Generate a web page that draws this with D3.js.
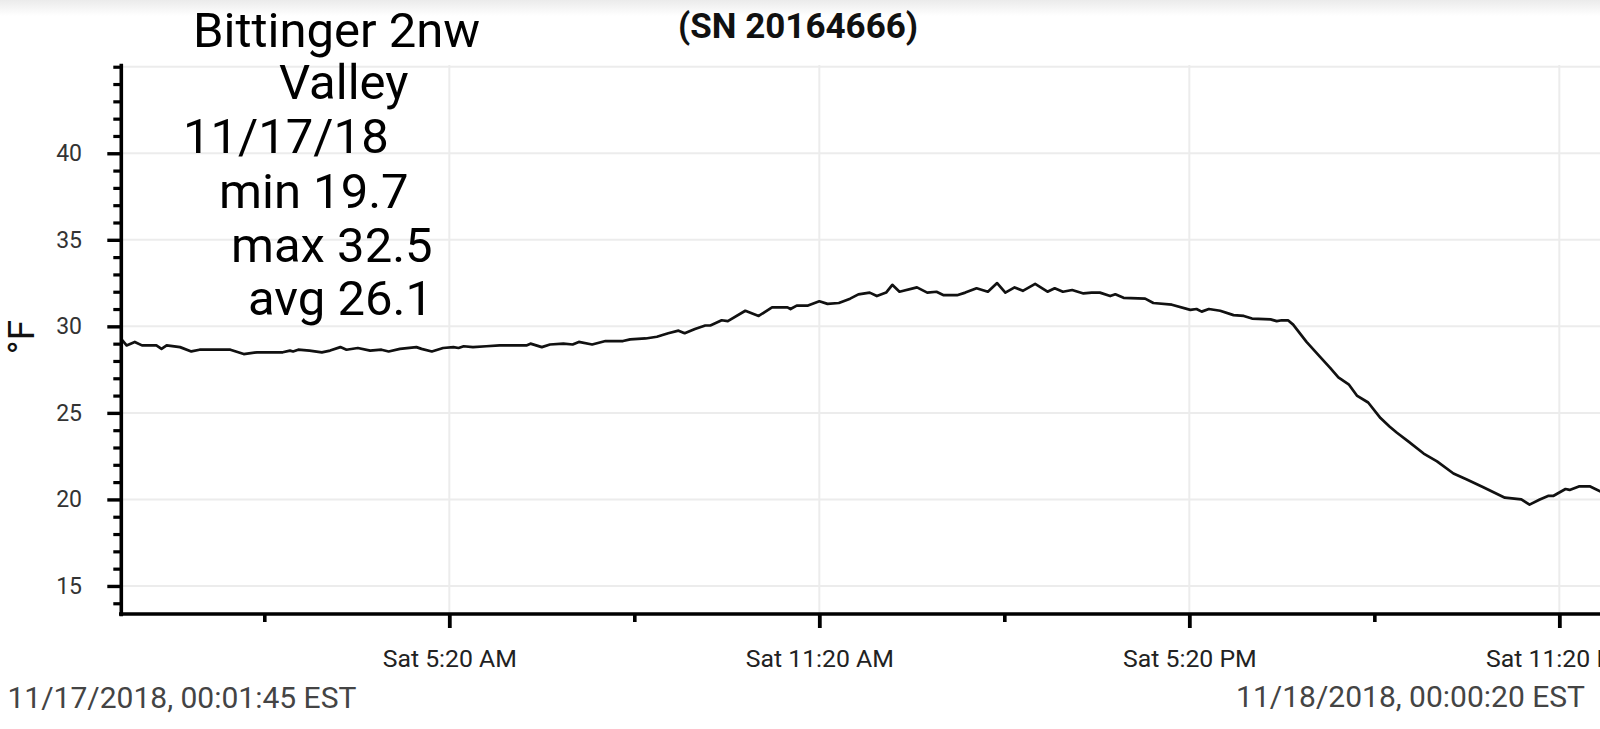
<!DOCTYPE html>
<html>
<head>
<meta charset="utf-8">
<script src="https://cdn.jsdelivr.net/npm/d3@7"></script>
<style>
  html, body { margin: 0; padding: 0; background: #fff; }
  svg { display: block; }
  text { font-family: Roboto, "Noto Sans", sans-serif; }
</style>
</head>
<body>
<svg id="chart" width="1600" height="729"></svg>
<script>
// ---- data ----
const titleLines = ["Bittinger 2nw", "Valley", "11/17/18", "min 19.7", "max 32.5", "avg 26.1"];
const serialLabel = "(SN 20164666)";
const yTitle = "°F";
const startLabel = "11/17/2018, 00:01:45 EST";
const endLabel = "11/18/2018, 00:00:20 EST";

// clock times on 11/17/2018 (24:00:20 = 11/18 00:00:20)
const times = ["00:01:45","00:06","00:14","00:21","00:35","00:40","00:45","00:58","01:09","01:17",
"01:47","02:00","02:13","02:38","02:45","02:48","02:53","03:04","03:16","03:24",
"03:34","03:40","03:51","04:03","04:14","04:21","04:32","04:48","04:53","05:03",
"05:14","05:24","05:29","05:34","05:43","05:56","06:09","06:35","06:39","06:50",
"06:58","07:11","07:20","07:26","07:39","07:52","08:09","08:16","08:31","08:42",
"08:53","09:03","09:09","09:19","09:29","09:34","09:45","09:51","10:08","10:21",
"10:34","10:49","10:52","10:58","11:09","11:20","11:28","11:39","11:50","11:58",
"12:09","12:16","12:25","12:31","12:38","12:55","13:05","13:14","13:21","13:34",
"13:42","13:53","14:04","14:13","14:21","14:30","14:38","14:50","15:02","15:09",
"15:17","15:26","15:37","15:45","15:53","16:03","16:08","16:16","16:37","16:45",
"17:03","17:21","17:27","17:32","17:39","17:50","18:03","18:13","18:21","18:39",
"18:45","18:50","18:56","19:01","19:14","19:27","19:37","19:45","19:55","20:03",
"20:14","20:26","20:35","20:42","20:53","21:08","21:21","21:37","21:50","22:06",
"22:27","22:43","22:51","23:01","23:09","23:14","23:26","23:30","23:39","23:50","24:00:20"];

const temps = [29.2,28.9,29.1,28.9,28.9,28.7,28.9,28.8,28.55,28.65,
28.65,28.4,28.5,28.5,28.6,28.55,28.65,28.6,28.5,28.6,
28.8,28.65,28.75,28.6,28.65,28.55,28.7,28.8,28.7,28.55,
28.75,28.8,28.75,28.85,28.8,28.85,28.9,28.9,29.0,28.8,
28.95,29.0,28.95,29.1,28.95,29.15,29.15,29.25,29.3,29.4,
29.6,29.75,29.6,29.85,30.05,30.05,30.35,30.3,30.9,30.6,
31.1,31.1,31.0,31.2,31.2,31.45,31.3,31.35,31.6,31.85,
31.95,31.75,31.95,32.4,32.0,32.25,31.95,32.0,31.8,31.8,
31.95,32.2,32.0,32.5,31.95,32.25,32.05,32.45,32.0,32.2,
32.0,32.1,31.9,31.95,31.95,31.75,31.85,31.65,31.6,31.35,
31.25,30.95,31.0,30.85,31.0,30.9,30.65,30.6,30.45,30.4,
30.3,30.35,30.35,30.1,29.1,28.25,27.6,27.05,26.65,26.0,
25.6,24.7,24.2,23.85,23.35,22.65,22.2,21.5,21.15,20.7,
20.1,20.0,19.7,20.0,20.2,20.2,20.6,20.55,20.75,20.75,20.45];

const xMajorTimes = ["05:20","11:20","17:20","23:20"];
const xMinorTimes = ["02:20","08:20","14:20","20:20"];
const yMajorTicks = [15, 20, 25, 30, 35, 40];
const yGridTicks = [15, 20, 25, 30, 35, 40, 45];
const yMinorTicks = [14, 16, 17, 18, 19, 21, 22, 23, 24, 26, 27, 28, 29, 31, 32, 33, 34, 36, 37, 38, 39, 41, 42, 43, 44, 45];
const yDomain = [13.38, 45.1];

// ---- helpers ----
function toDate(s) {
  const p = s.split(":").map(Number);
  const sec = p[0] * 3600 + p[1] * 60 + (p[2] || 0);
  return new Date(new Date(2018, 10, 17, 0, 0, 0).getTime() + sec * 1000);
}
const data = times.map((t, i) => ({ t: toDate(t), v: temps[i] }));

// ---- layout ----
const svg = d3.select("#chart");
const W = 1600, H = 729;
const plot = { left: 122.2, right: 1600.8, top: 65, bottom: 614 };

const x = d3.scaleTime()
  .domain([data[0].t, data[data.length - 1].t])
  .range([plot.left, plot.right]);
const y = d3.scaleLinear().domain(yDomain).range([plot.bottom, plot.top]);

// top shadow band
const defs = svg.append("defs");
const grad = defs.append("linearGradient").attr("id", "topShade").attr("x1", 0).attr("x2", 0).attr("y1", 0).attr("y2", 1);
grad.append("stop").attr("offset", "0%").attr("stop-color", "#ebebeb");
grad.append("stop").attr("offset", "100%").attr("stop-color", "#ffffff");
svg.append("rect").attr("x", 0).attr("y", 0).attr("width", W).attr("height", 16).attr("fill", "url(#topShade)");

// gridlines
const grid = svg.append("g").attr("class", "grid");
grid.selectAll("line.h").data(yGridTicks).join("line")
  .attr("class", "h")
  .attr("x1", plot.left).attr("x2", W)
  .attr("y1", d => y(d)).attr("y2", d => y(d))
  .attr("stroke", "#ececec").attr("stroke-width", 2);
grid.selectAll("line.v").data(xMajorTimes).join("line")
  .attr("class", "v")
  .attr("x1", d => x(toDate(d))).attr("x2", d => x(toDate(d)))
  .attr("y1", plot.top).attr("y2", plot.bottom)
  .attr("stroke", "#ececec").attr("stroke-width", 2);

// data line
const line = d3.line().x(d => x(d.t)).y(d => y(d.v));
svg.append("path").datum(data)
  .attr("d", line)
  .attr("fill", "none")
  .attr("stroke", "#111")
  .attr("stroke-width", 2.7)
  .attr("stroke-linejoin", "round");

// y axis
const yAxisX = 120.8;
const yMinor = svg.append("g").attr("transform", `translate(${yAxisX},0)`)
  .call(d3.axisLeft(y).tickValues(yMinorTicks).tickSize(7.5).tickSizeOuter(0).tickFormat(""));
yMinor.select(".domain").remove();
yMinor.selectAll(".tick line").attr("stroke", "#000").attr("stroke-width", 3.2);

const yAx = svg.append("g").attr("transform", `translate(${yAxisX},0)`)
  .call(d3.axisLeft(y).tickValues(yMajorTicks).tickSize(13.5).tickSizeOuter(0).tickPadding(25.3).tickFormat(d3.format("d")));
yAx.select(".domain").attr("stroke", "#000").attr("stroke-width", 3.6).attr("stroke-linecap", "square");
yAx.selectAll(".tick line").attr("stroke", "#000").attr("stroke-width", 3.4);
yAx.selectAll(".tick text")
  .attr("font-family", "Roboto").attr("font-size", 23).attr("fill", "#333");

// x axis
const xMinor = svg.append("g").attr("transform", `translate(0,${plot.bottom})`)
  .call(d3.axisBottom(x).tickValues(xMinorTimes.map(toDate)).tickSize(8).tickSizeOuter(0).tickFormat(""));
xMinor.select(".domain").remove();
xMinor.selectAll(".tick line").attr("stroke", "#000").attr("stroke-width", 3.6);

const fmt = d3.timeFormat("%a %-I:%M %p");
const xAx = svg.append("g").attr("transform", `translate(0,${plot.bottom})`)
  .call(d3.axisBottom(x).tickValues(xMajorTimes.map(toDate)).tickSize(14).tickSizeOuter(0).tickFormat(fmt));
xAx.select(".domain").attr("d", `M${yAxisX - 1.8},0H${W + 5}`).attr("stroke", "#000").attr("stroke-width", 3.6);
xAx.selectAll(".tick line").attr("stroke", "#000").attr("stroke-width", 3.8);
xAx.selectAll(".tick text")
  .attr("dy", null).attr("y", 53)
  .attr("font-family", "Roboto").attr("font-size", 24.8).attr("fill", "#222");

// y axis title
svg.append("text")
  .attr("transform", "translate(33.5,337) rotate(-90)")
  .attr("text-anchor", "middle")
  .attr("font-size", 37).attr("fill", "#111")
  .text(yTitle);

// title block
const titleX = [193, 279, 183, 219, 231, 248];
const titleY = [47, 99, 153, 208, 262, 315];
svg.append("g").selectAll("text").data(titleLines).join("text")
  .attr("x", (d, i) => titleX[i]).attr("y", (d, i) => titleY[i])
  .attr("font-size", 49).attr("fill", "#000")
  .text(d => d);

// serial number
svg.append("text")
  .attr("x", 678).attr("y", 37.5)
  .attr("font-size", 35).attr("font-weight", "bold").attr("fill", "#111")
  .text(serialLabel);

// start / end timestamps
svg.append("text").attr("x", 7.5).attr("y", 708)
  .attr("font-size", 30).attr("fill", "#444").text(startLabel);
svg.append("text").attr("x", 1585).attr("y", 707).attr("text-anchor", "end")
  .attr("font-size", 30).attr("fill", "#444").text(endLabel);
</script>
</body>
</html>
